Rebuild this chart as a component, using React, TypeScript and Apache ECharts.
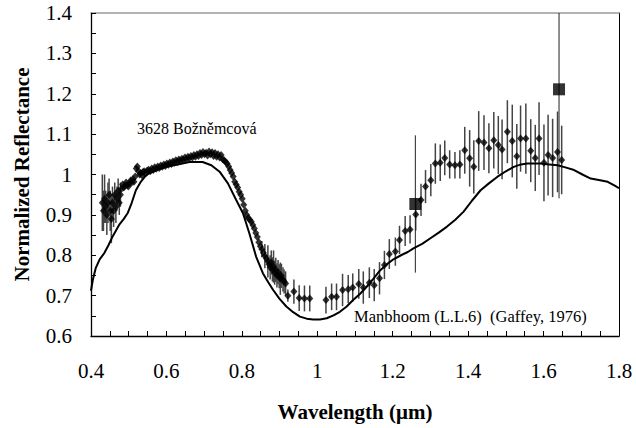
import React, { useEffect, useRef } from "react";
import * as echarts from "echarts";

// Manbhoom (L.L.6) laboratory spectrum (Gaffey, 1976)
const labWavelength = [
  0.4, 0.405, 0.4125, 0.423, 0.435, 0.447, 0.457, 0.4745, 0.487, 0.497, 0.508, 0.519, 0.532, 0.543, 0.554,
  0.577, 0.599, 0.63, 0.661, 0.696, 0.719, 0.741, 0.763, 0.785, 0.803, 0.82, 0.838, 0.856, 0.87, 0.883,
  0.9, 0.918, 0.936, 0.954, 0.972, 0.989, 1.007, 1.025, 1.043, 1.06, 1.078, 1.095, 1.113, 1.131, 1.149,
  1.167, 1.185, 1.202, 1.222, 1.24, 1.255, 1.278, 1.3, 1.322, 1.344, 1.366, 1.388, 1.41, 1.433, 1.455,
  1.477, 1.5, 1.521, 1.54, 1.557, 1.592, 1.615, 1.637, 1.66, 1.681, 1.703, 1.725, 1.75, 1.77, 1.79, 1.8,
];
const labReflectance = [
  0.712, 0.74, 0.768, 0.79, 0.805, 0.826, 0.846, 0.875, 0.89, 0.904, 0.93, 0.961, 0.982, 0.995, 1.003,
  1.012, 1.019, 1.025, 1.031, 1.031, 1.023, 1.007, 0.978, 0.937, 0.904, 0.854, 0.796, 0.755, 0.733, 0.714,
  0.692, 0.673, 0.659, 0.648, 0.643, 0.641, 0.641, 0.644, 0.651, 0.66, 0.673, 0.689, 0.704, 0.722, 0.742,
  0.763, 0.778, 0.79, 0.8, 0.808, 0.817, 0.828, 0.842, 0.856, 0.871, 0.888, 0.908, 0.935, 0.961, 0.978,
  0.994, 1.008, 1.019, 1.025, 1.027, 1.027, 1.025, 1.023, 1.017, 1.011, 1.0, 0.99, 0.986, 0.982, 0.972, 0.966,
];

// 3628 Božněmcová telescopic spectrum
const astWavelength = [
  0.43, 0.433, 0.436, 0.439, 0.442, 0.445, 0.448, 0.451, 0.454, 0.457, 0.46, 0.463, 0.466, 0.469, 0.472, 0.475, 0.478,
  0.481, 0.484, 0.487, 0.49, 0.493, 0.496, 0.499, 0.502, 0.505, 0.508, 0.511, 0.514, 0.517, 0.52, 0.523, 0.526,
  0.529, 0.532, 0.535, 0.538, 0.541, 0.545, 0.549, 0.553, 0.557, 0.561, 0.565, 0.569, 0.573, 0.577, 0.581, 0.585,
  0.589, 0.593, 0.597, 0.601, 0.605, 0.609, 0.613, 0.617, 0.621, 0.625, 0.629, 0.633, 0.637, 0.641, 0.645, 0.649,
  0.653, 0.657, 0.661, 0.665, 0.669, 0.673, 0.677, 0.681, 0.685, 0.689, 0.693, 0.697, 0.701, 0.705, 0.709, 0.713,
  0.717, 0.721, 0.725, 0.729, 0.733, 0.737, 0.741, 0.745, 0.749, 0.753, 0.757, 0.761, 0.765, 0.769, 0.773, 0.777,
  0.781, 0.785, 0.789, 0.793, 0.797, 0.801, 0.805, 0.809, 0.813, 0.817, 0.821, 0.825, 0.829, 0.833, 0.837, 0.841,
  0.845, 0.849, 0.853, 0.857, 0.861, 0.865, 0.869, 0.872, 0.875, 0.878, 0.881, 0.884, 0.887, 0.89, 0.893, 0.896,
  0.899, 0.902, 0.905, 0.909, 0.912, 0.916, 0.922, 0.938, 0.952, 0.966, 0.98, 1.023, 1.038, 1.051, 1.067, 1.082,
  1.094, 1.11, 1.122, 1.138, 1.151, 1.165, 1.178, 1.191, 1.207, 1.218, 1.233, 1.246, 1.261, 1.275, 1.287, 1.301,
  1.313, 1.326, 1.338, 1.351, 1.365, 1.378, 1.391, 1.404, 1.415, 1.428, 1.442, 1.455, 1.468, 1.48, 1.49, 1.504,
  1.517, 1.529, 1.539, 1.553, 1.566, 1.578, 1.588, 1.601, 1.612, 1.624, 1.637, 1.648,
];
const astReflectance = [
  0.93, 0.91, 0.94, 0.92, 0.9, 0.93, 0.95, 0.91, 0.89, 0.93, 0.91, 0.95, 0.92, 0.94, 0.96, 0.93, 0.95,
  0.965, 0.975, 0.968, 0.972, 0.98, 0.974, 0.97, 0.978, 0.985, 0.98, 0.988, 0.982, 0.995, 1.015, 1.02, 1.008,
  1.0, 1.004, 0.998, 1.006, 1.008, 1.003, 1.01, 1.012, 1.008, 1.015, 1.011, 1.018, 1.014, 1.02, 1.016, 1.022,
  1.019, 1.025, 1.021, 1.027, 1.024, 1.03, 1.026, 1.032, 1.029, 1.035, 1.031, 1.037, 1.034, 1.039, 1.036, 1.042,
  1.038, 1.044, 1.04, 1.046, 1.042, 1.048, 1.044, 1.05, 1.046, 1.053, 1.048, 1.056, 1.05, 1.054, 1.047, 1.057,
  1.05, 1.055, 1.046, 1.053, 1.044, 1.05, 1.042, 1.048, 1.038, 1.035, 1.031, 1.027, 1.02, 1.011, 1.004, 0.995,
  0.982, 0.975, 0.968, 0.957, 0.95, 0.94, 0.925, 0.91, 0.9, 0.892, 0.888, 0.883, 0.875, 0.866, 0.855, 0.845,
  0.832, 0.822, 0.815, 0.806, 0.798, 0.792, 0.785, 0.778, 0.77, 0.782, 0.765, 0.772, 0.757, 0.764, 0.75, 0.758,
  0.748, 0.742, 0.749, 0.74, 0.735, 0.73, 0.7, 0.71, 0.694, 0.693, 0.693, 0.689, 0.697, 0.697, 0.714, 0.716,
  0.72, 0.729, 0.72, 0.732, 0.726, 0.743, 0.776, 0.803, 0.809, 0.838, 0.86, 0.864, 0.901, 0.937, 0.97, 0.986,
  1.027, 1.029, 1.041, 1.025, 1.023, 1.025, 1.06, 1.04, 1.019, 1.083, 1.079, 1.065, 1.085, 1.073, 1.062, 1.106,
  1.083, 1.045, 1.089, 1.089, 1.059, 1.041, 1.089, 1.029, 1.048, 1.041, 1.056, 1.036,
];
const astError = [
  0.07, 0.05, 0.06, 0.04, 0.05, 0.05, 0.04, 0.05, 0.06, 0.04, 0.04, 0.03, 0.04, 0.03, 0.03, 0.03, 0.03,
  0, 0, 0, 0, 0, 0, 0, 0, 0, 0, 0, 0, 0, 0, 0, 0,
  0, 0, 0, 0, 0, 0, 0, 0, 0, 0, 0, 0, 0, 0, 0, 0,
  0, 0, 0, 0, 0, 0, 0, 0, 0, 0, 0, 0, 0, 0, 0, 0,
  0, 0, 0, 0, 0, 0, 0, 0, 0, 0, 0, 0, 0, 0, 0, 0,
  0, 0, 0, 0, 0, 0, 0, 0, 0, 0, 0, 0, 0, 0, 0, 0,
  0, 0, 0, 0, 0, 0, 0, 0, 0, 0, 0, 0, 0, 0, 0, 0,
  0, 0, 0.02, 0, 0.03, 0, 0.04, 0, 0.03, 0.03, 0.03, 0.04, 0.03, 0.03, 0.03, 0.03,
  0.03, 0.04, 0.03, 0.03, 0.03, 0.03, 0.015, 0.03, 0.032, 0.032, 0.032, 0.033, 0.033, 0.033, 0.04, 0.035,
  0.035, 0.037, 0.04, 0.038, 0.04, 0.04, 0.035, 0.037, 0.035, 0.035, 0.037, 0.035, 0.04, 0.04, 0.041, 0.04,
  0.05, 0.045, 0.043, 0.035, 0.033, 0.035, 0.058, 0.07, 0.066, 0.074, 0.068, 0.062, 0.07, 0.072, 0.074, 0.078,
  0.09, 0.08, 0.082, 0.087, 0.078, 0.082, 0.09, 0.095, 0.1, 0.097, 0.1, 0.085,
];

// Filter photometry points (squares)
const bandWavelength = [1.26, 1.641];
const bandReflectance = [0.927, 1.211];
const bandError = [0.17, 0.27];

const SERIF = "Liberation Serif";

export default function App() {
  const ref = useRef<HTMLDivElement>(null);

  useEffect(() => {
    if (!ref.current) return;
    const chart = echarts.init(ref.current, undefined, { renderer: "svg" });

    const labData = labWavelength.map((x, i) => [x, labReflectance[i]]);
    const astData = astWavelength.map((x, i) => [x, astReflectance[i], astError[i]]);
    const bandData = bandWavelength.map((x, i) => [x, bandReflectance[i], bandError[i]]);

    const errRender = (color: string, width: number) => (params: any, api: any) => {
      const x = api.value(0);
      const y = api.value(1);
      const e = api.value(2);
      if (!e) return null;
      const a = api.coord([x, y + e]);
      const b = api.coord([x, y - e]);
      return {
        type: "line",
        shape: { x1: a[0], y1: a[1], x2: b[0], y2: b[1] },
        style: { stroke: color, lineWidth: width },
      };
    };

    const axisCommon = {
      axisLine: { show: true, lineStyle: { color: "#000", width: 1.3 } },
      axisTick: { show: true, inside: true, length: 5, lineStyle: { color: "#000", width: 1 } },
      minorTick: { show: true, length: 5, lineStyle: { color: "#000", width: 1 } },
      splitLine: { show: false },
      axisLabel: { color: "#000", fontFamily: SERIF, fontSize: 21 },
      nameTextStyle: { color: "#000", fontFamily: SERIF, fontSize: 21, fontWeight: "bold" as const },
    };

    chart.setOption({
      animation: false,
      backgroundColor: "#fff",
      textStyle: { fontFamily: SERIF },
      grid: { left: 91, right: 17, top: 13, bottom: 92, containLabel: false },
      xAxis: [
        {
          type: "value",
          min: 0.4,
          max: 1.8,
          interval: 0.2,
          ...axisCommon,
          minorTick: { ...axisCommon.minorTick, splitNumber: 4 },
          axisLabel: { ...axisCommon.axisLabel, margin: 24 },
          name: "Wavelength (μm)",
          nameLocation: "middle",
          nameGap: 65,
        },
        {
          type: "value",
          position: "top",
          min: 0.4,
          max: 1.8,
          axisLine: { show: true, lineStyle: { color: "#9a9a9a", width: 1.5 } },
          axisTick: { show: false },
          axisLabel: { show: false },
          splitLine: { show: false },
        },
      ],
      yAxis: [
        {
          type: "value",
          min: 0.6,
          max: 1.4,
          interval: 0.1,
          ...axisCommon,
          minorTick: { ...axisCommon.minorTick, splitNumber: 2 },
          axisLabel: { ...axisCommon.axisLabel, margin: 19 },
          name: "Normalized Reflectance",
          nameLocation: "middle",
          nameGap: 59,
        },
        {
          type: "value",
          position: "right",
          min: 0.6,
          max: 1.4,
          axisLine: { show: true, lineStyle: { color: "#000", width: 1 } },
          axisTick: { show: false },
          axisLabel: { show: false },
          splitLine: { show: false },
        },
      ],
      series: [
        {
          name: "Manbhoom",
          type: "line",
          data: labData,
          showSymbol: false,
          symbol: "none",
          lineStyle: { color: "#000", width: 2 },
          z: 3,
        },
        {
          name: "astErr",
          type: "custom",
          data: astData,
          renderItem: errRender("#444", 1.5),
          clip: true,
          z: 2,
        },
        {
          name: "3628 Božněmcová",
          type: "scatter",
          data: astData,
          symbol: "diamond",
          symbolSize: [7, 8],
          itemStyle: { color: "#000" },
          z: 4,
        },
        {
          name: "bandErr",
          type: "custom",
          data: bandData,
          renderItem: errRender("#222", 1),
          clip: true,
          z: 2,
        },
        {
          name: "bands",
          type: "scatter",
          data: bandData,
          symbol: "rect",
          symbolSize: 12,
          itemStyle: { color: "#000" },
          z: 5,
        },
      ],
      graphic: [
        {
          type: "text",
          left: 137,
          top: 120,
          style: { text: "3628 Božněmcová", fontFamily: SERIF, fontSize: 16, fill: "#000" },
        },
        {
          type: "text",
          left: 354,
          top: 308,
          style: { text: "Manbhoom (L.L.6)  (Gaffey, 1976)", fontFamily: SERIF, fontSize: 16.5, fill: "#000" },
        },
      ],
    });

    return () => chart.dispose();
  }, []);

  return (
    <div
      ref={ref}
      style={{ position: "fixed", left: 0, top: 0, width: 636, height: 428, background: "#fff" }}
    />
  );
}
